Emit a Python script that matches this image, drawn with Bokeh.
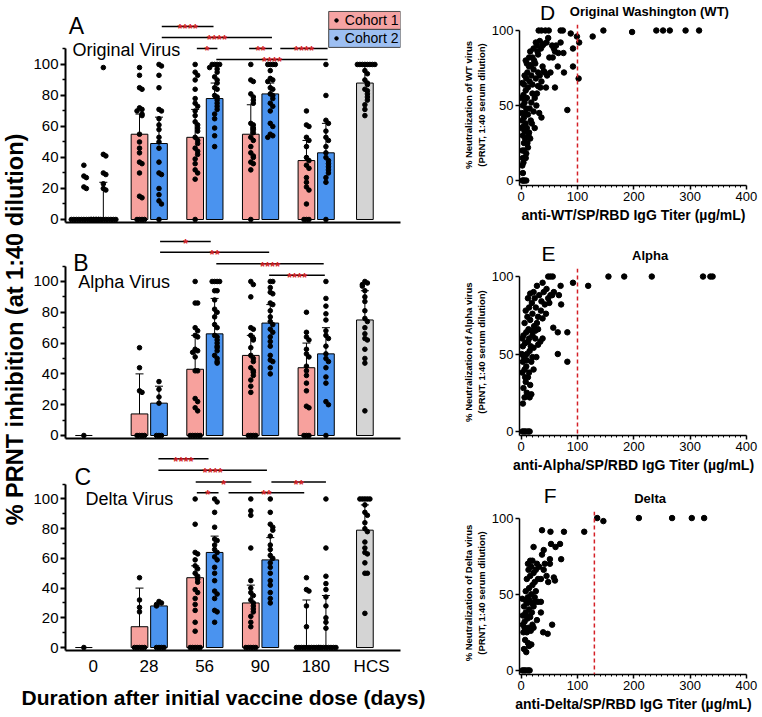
import math
from bokeh.plotting import figure
from bokeh.layouts import row, column
from bokeh.models import ColumnDataSource, Whisker, TeeHead, FixedTicker, Label, Span, Range1d
from bokeh.embed import file_html
from bokeh.resources import INLINE
from bokeh.core.properties import value

FONT = "Liberation Sans"
C1_COL = "#f7a19d"
C2_COL = "#4a93ef"
HCS_COL = "#d4d4d4"
LEG1_COL = "#f5a3a3"
LEG2_COL = "#9dbff2"
RED = "#d41f26"

# ---------------- data: left panels ----------------
day_labels = ["0", "28", "56", "90", "180", "HCS"]

# Panel A - Original virus (bars = central value, lo/hi = error bar ends)
A_c1_mean = [0, 55, 53, 55, 38]
A_c1_lo = [0, 42, 40, 37, 23]
A_c1_hi = [0, 68, 71, 74, 51]
A_c2_mean = [0, 49, 78, 81, 43]
A_c2_lo = [0, 32, 69, 74, 24]
A_c2_hi = [24, 66, 88, 88, 62]
A_hcs = [88, 78, 99]
A_c1_pts = [
    [35, 28, 27, 21, 20, 0, 0, 0, 0, 0, 0, 0, 0, 0, 0, 0, 0],
    [98, 93, 85, 84, 72, 71, 70, 68, 67, 55, 50, 46, 43, 37, 36, 30, 15, 14, 0, 0, 0, 0],
    [100, 95, 93, 90, 84, 78, 75, 73, 70, 67, 63, 61, 59, 57, 53, 51, 49, 46, 44, 42, 39, 36, 32, 30, 26, 0],
    [100, 90, 89, 81, 79, 77, 75, 62, 61, 59, 58, 56, 53, 51, 47, 43, 41, 40, 37, 36, 32, 0],
    [70, 61, 60, 53, 51, 47, 40, 38, 35, 33, 27, 24, 21, 19, 10, 0, 0, 0],
]
A_c2_pts = [
    [98, 42, 41, 30, 29, 23, 20, 19, 0, 0, 0, 0, 0, 0, 0, 0, 0, 0, 0],
    [100, 99, 93, 85, 71, 70, 65, 61, 58, 53, 50, 46, 37, 30, 29, 20, 16, 12, 10, 0],
    [100, 100, 100, 100, 98, 97, 95, 92, 90, 88, 85, 84, 80, 79, 77, 75, 73, 71, 68, 65, 59, 54, 47],
    [100, 100, 100, 100, 96, 91, 90, 89, 85, 84, 81, 80, 78, 75, 73, 70, 62, 60, 55, 54, 53],
    [100, 80, 64, 62, 57, 53, 51, 47, 43, 40, 38, 36, 34, 32, 30, 27, 24, 0],
]
A_hcs_pts = [100, 100, 100, 100, 100, 100, 100, 100, 96, 94, 90, 88, 87, 84, 83, 81, 79, 77, 74, 71, 67]
A_sig_x0 = [1.23, 1.23, 1.86, 2.80, 3.36, 2.21]
A_sig_x1 = [2.16, 3.21, 2.23, 3.21, 4.21, 4.21]
A_sig_y = [124.5, 117.4, 110.3, 110.3, 110.3, 103.2]
A_sig_lab = ["****", "****", "*", "**", "****", "****"]

# Panel B - Alpha virus
B_c1_mean = [0, 14, 43, 52, 44]
B_c1_lo = [0, 0, 18, 38, 24]
B_c1_hi = [0, 40, 65, 65, 60]
B_c2_mean = [None, 21, 66, 73, 53]
B_c2_lo = [None, 10, 46, 60, 36]
B_c2_hi = [None, 32, 89, 85, 70]
B_hcs = [75, 56, 94]
B_c1_pts = [
    [0],
    [57, 44, 29, 28, 0, 0, 0, 0],
    [100, 86, 86, 70, 68, 65, 64, 56, 55, 54, 51, 42, 42, 24, 22, 18, 16, 0, 0, 0, 0, 0],
    [100, 98, 90, 70, 69, 65, 63, 62, 57, 52, 50, 48, 44, 42, 41, 39, 36, 32, 28, 0, 0, 0, 0],
    [80, 67, 64, 62, 56, 53, 51, 45, 42, 39, 34, 29, 19, 18, 0, 0, 0],
]
B_c2_pts = [
    [],
    [35, 30, 25, 21, 0, 0, 0],
    [100, 100, 100, 100, 94, 94, 88, 82, 80, 77, 72, 70, 65, 64, 62, 60, 58, 57, 55, 52, 50, 48, 47],
    [100, 100, 96, 93, 92, 86, 85, 81, 77, 74, 72, 69, 67, 64, 61, 58, 52, 49, 48, 44, 40],
    [100, 89, 84, 79, 75, 68, 65, 63, 58, 53, 50, 48, 44, 38, 34, 22, 20, 0],
]
B_hcs_pts = [100, 99, 98, 97, 94, 90, 87, 81, 76, 74, 70, 66, 63, 62, 56, 50, 47, 16]
B_sig_x0 = [1.20, 1.20, 2.21, 3.16]
B_sig_x1 = [2.11, 3.16, 4.14, 4.16]
B_sig_y = [126, 119, 111.5, 104]
B_sig_lab = ["*", "**", "****", "****"]

# Panel C - Delta virus
C_c1_mean = [0, 14, 47, 30, 0]
C_c1_lo = [0, 0, 38, 18, 0]
C_c1_hi = [0, 40, 55, 42, 32]
C_c2_mean = [None, 28, 64, 59, 0]
C_c2_lo = [None, 26, 45, 45, 0]
C_c2_hi = [None, 29.5, 75, 74, 35]
C_hcs = [79, 62, 96]
C_c1_pts = [
    [0],
    [47, 32, 27, 24, 0, 0, 0, 0, 0],
    [100, 83, 64, 63, 59, 55, 53, 50, 48, 46, 44, 39, 37, 33, 29, 25, 17, 11, 0, 0, 0, 0, 0],
    [100, 92, 89, 67, 45, 40, 37, 35, 32, 30, 28, 26, 24, 21, 17, 14, 0, 0, 0, 0, 0],
    [47, 39, 38, 28, 14, 0, 0, 0, 0, 0, 0, 0, 0, 0, 0],
]
C_c2_pts = [
    [],
    [31, 30, 29, 28, 0, 0, 0, 0],
    [100, 98, 91, 81, 73, 72, 69, 66, 64, 61, 59, 54, 50, 45, 38, 36, 33, 25, 24, 17],
    [100, 91, 83, 81, 79, 75, 69, 66, 62, 60, 57, 54, 50, 45, 42, 37, 33, 30],
    [100, 67, 48, 43, 39, 34, 28, 20, 17, 13, 0, 0, 0, 0, 0, 0, 0, 0],
]
C_hcs_pts = [100, 100, 100, 100, 100, 96, 91, 89, 84, 80, 78, 71, 67, 64, 63, 57, 50, 50, 23]
C_sig_x0 = [1.17, 1.17, 1.84, 3.20, 1.86, 2.43]
C_sig_x1 = [2.07, 3.12, 2.84, 4.18, 2.25, 3.79]
C_sig_y = [127, 119.3, 111.5, 111.5, 104.2, 104.2]
C_sig_lab = ["****", "****", "*", "**", "*", "**"]

legend_labels = ["Cohort 1", "Cohort 2"]

# ---------------- data: right panels (titer ug/mL, % neutralization) ----------------
D_pts = [
    (31, 100), (36, 100), (43, 100), (49, 100), (70, 100), (74, 100), (146, 100), (240, 100), (252, 100),
    (264, 100), (292, 100), (316, 100), (197, 99), (88, 98), (99, 96), (127, 96), (103, 92), (102, 68),
    (92, 76), (76, 72), (82, 47), (92, 88), (60, 62),
    (2, 10), (3, 15), (4, 12), (2, 20), (5, 25), (3, 30), (6, 33), (4, 36), (8, 38), (2, 40), (5, 42),
    (7, 45), (9, 48), (3, 50), (6, 52), (10, 55), (4, 57), (8, 60), (12, 62), (5, 64), (15, 66), (9, 68),
    (18, 70), (11, 72), (22, 74), (14, 76), (25, 78), (8, 80), (20, 82), (30, 84), (16, 86), (35, 88),
    (28, 90), (40, 91), (45, 92), (55, 90), (60, 86), (50, 82), (38, 76), (42, 72), (33, 70), (26, 68),
    (30, 63), (20, 58), (24, 55), (18, 52), (15, 48), (22, 46), (12, 44), (17, 40), (10, 35), (14, 32),
    (7, 28), (11, 25), (5, 20), (9, 18), (13, 30), (19, 38), (27, 50), (32, 45), (36, 42), (28, 58),
    (34, 62), (40, 73), (46, 70), (52, 72), (58, 88), (62, 90), (66, 85), (70, 92), (75, 85), (3, 5),
    (6, 0), (2, 0), (9, 0), (4, 0), (1, 45), (1, 35), (1, 55), (2, 65), (6, 70), (10, 78), (14, 82),
    (22, 88), (26, 92), (33, 93), (38, 90), (30, 72), (36, 66), (44, 62), (20, 64), (24, 35), (16, 28),
    (12, 22), (8, 15), (18, 77), (23, 80), (29, 86), (48, 95), (56, 82), (65, 76),
]
E_pts = [
    (48, 100), (52, 100), (56, 100), (155, 100), (183, 100), (232, 100), (323, 100), (336, 100), (340, 100),
    (38, 96), (92, 96), (119, 94), (70, 94), (67, 88), (71, 82), (57, 67), (65, 64), (82, 64), (65, 50),
    (82, 45),
    (2, 0), (5, 0), (8, 0), (12, 0), (15, 0), (3, 18), (6, 22), (10, 25), (15, 22), (18, 24), (4, 28),
    (8, 32), (12, 35), (2, 38), (6, 40), (9, 42), (14, 38), (18, 45), (5, 48), (10, 50), (15, 52), (20, 48),
    (3, 55), (7, 57), (12, 58), (17, 55), (22, 54), (25, 60), (4, 62), (9, 64), (13, 66), (18, 65),
    (23, 68), (28, 70), (6, 70), (11, 74), (16, 72), (20, 76), (30, 74), (35, 78), (8, 78), (14, 80),
    (19, 83), (24, 86), (32, 88), (40, 90), (45, 92), (22, 90), (28, 94), (12, 86), (16, 89), (26, 80),
    (30, 56), (34, 58), (38, 60), (27, 48), (22, 40), (16, 30), (20, 62), (42, 82), (48, 86), (52, 88),
    (36, 84), (44, 76), (10, 46), (7, 35), (3, 45), (2, 60), (1, 50), (25, 65), (30, 66), (14, 60),
    (38, 73), (50, 83), (55, 88), (58, 90),
]
F_pts = [
    (135, 100), (146, 98), (209, 100), (268, 100), (303, 100), (325, 100), (112, 91), (76, 91), (52, 91),
    (37, 92), (69, 83), (61, 81), (53, 83), (71, 73), (51, 73), (51, 70), (60, 59), (58, 61), (55, 30),
    (47, 24), (39, 25), (35, 38), (22, 81), (40, 79), (37, 76),
    (2, 0), (5, 0), (8, 0), (12, 0), (15, 0), (5, 14), (9, 12), (12, 18), (14, 16), (7, 20), (18, 17),
    (10, 25), (4, 25), (13, 28), (20, 30), (6, 32), (11, 34), (16, 35), (3, 36), (8, 38), (14, 40),
    (19, 38), (22, 42), (5, 42), (10, 44), (15, 46), (25, 45), (30, 45), (35, 45), (2, 47), (12, 48),
    (18, 50), (8, 52), (14, 54), (20, 56), (24, 58), (10, 60), (16, 62), (22, 64), (13, 66), (18, 68),
    (26, 66), (12, 70), (16, 72), (20, 72), (28, 70), (32, 68), (40, 66), (45, 62), (30, 60), (26, 52),
    (22, 28), (28, 33), (17, 26), (6, 28), (9, 36), (3, 30), (24, 48), (8, 46), (19, 44), (35, 60),
    (42, 70), (48, 58),
]
thresholds = {"D": 100, "E": 100, "F": 130}

# ---------------- helpers ----------------
OFF1, OFF2, OFFH = -0.17, 0.18, -0.12
BAR_W = 0.30
LW = 428  # width of left panels


def swarm(vals, center, step=0.045, tol=3.0):
    xs, ys, placed = [], [], []
    for v in sorted(vals, reverse=True):
        k = sum(1 for pv in placed if abs(pv - v) < tol)
        off = ((k + 1) // 2) * step * (1 if k % 2 else -1)
        placed.append(v)
        xs.append(center + off)
        ys.append(v)
    return xs, ys


def style_left_axes(p, show_x):
    for ax in (p.xaxis[0], p.yaxis[0]):
        ax.axis_line_width = 2
        ax.axis_line_color = "black"
        ax.major_label_text_font = FONT
        ax.major_label_text_color = "black"
    y = p.yaxis[0]
    y.ticker = FixedTicker(ticks=[0, 20, 40, 60, 80, 100], minor_ticks=[10, 30, 50, 70, 90, 110])
    y.bounds = (p.y_range.start, 110)
    y.major_tick_out = 5
    y.major_tick_in = 0
    y.minor_tick_out = 3
    y.minor_tick_in = 0
    y.major_tick_line_width = 2
    y.minor_tick_line_width = 1.5
    y.major_label_text_font_size = "15px"
    y.major_label_standoff = 2
    x = p.xaxis[0]
    x.major_tick_line_color = None
    x.minor_tick_line_color = None
    x.major_tick_out = 0
    x.minor_tick_out = 0
    if show_x:
        x.ticker = FixedTicker(ticks=[0, 1, 2, 3, 4, 5], minor_ticks=[])
        x.major_label_overrides = {i: lab for i, lab in enumerate(day_labels)}
        x.major_label_text_font_size = "17px"
        x.major_label_standoff = 6
    else:
        x.ticker = FixedTicker(ticks=[], minor_ticks=[])
        x.major_label_standoff = 0


def left_panel(height, top, bottom, yr, c1m, c1lo, c1hi, c1pts, c2m, c2lo, c2hi, c2pts,
               hcs, hcs_pts, sx0, sx1, sy, slab, letter, letter_xy, title, title_xy, show_x):
    p = figure(width=LW, height=height, x_range=Range1d(-0.5, 5.52), y_range=Range1d(*yr),
               toolbar_location=None, output_backend="svg", min_border_left=33, min_border_right=LW - 370,
               min_border_top=top, min_border_bottom=bottom, outline_line_color=None)
    p.grid.visible = False
    style_left_axes(p, show_x)

    # bars
    bx, btop, bcol = [], [], []
    wx, wlo, whi = [], [], []
    for i in range(5):
        for m, lo, hi, off, col in ((c1m[i], c1lo[i], c1hi[i], OFF1, C1_COL), (c2m[i], c2lo[i], c2hi[i], OFF2, C2_COL)):
            if m is None:
                continue
            bx.append(i + off)
            btop.append(m)
            bcol.append(col)
            if hi != lo:
                wx.append(i + off)
                wlo.append(lo)
                whi.append(hi)
    bx.append(5 + OFFH)
    btop.append(hcs[0])
    bcol.append(HCS_COL)
    wx.append(5 + OFFH)
    wlo.append(hcs[1])
    whi.append(hcs[2])
    p.vbar(x=bx, top=btop, bottom=0, width=BAR_W, fill_color=bcol, line_color="black", line_width=1)
    wsrc = ColumnDataSource(dict(x=wx, lo=wlo, hi=whi))
    p.add_layout(Whisker(source=wsrc, base="x", lower="lo", upper="hi", line_color="black", line_width=1,
                         upper_head=TeeHead(size=8, line_color="black", line_width=1),
                         lower_head=TeeHead(size=8, line_color="black", line_width=1)))

    # dots
    dx, dy = [], []
    for i in range(5):
        for pts, off in ((c1pts[i], OFF1), (c2pts[i], OFF2)):
            xs, ys = swarm(pts, i + off)
            dx += xs
            dy += ys
    xs, ys = swarm(hcs_pts, 5 + OFFH)
    dx += xs
    dy += ys
    p.scatter(dx, dy, size=4.6, color="black")

    # significance brackets
    p.segment(x0=sx0, y0=sy, x1=sx1, y1=sy, line_color="black", line_width=1.5)
    p.text(x=[(a + b) / 2 for a, b in zip(sx0, sx1)], y=[v - 1.5 for v in sy], text=slab,
           text_color=RED, text_font=value(FONT), text_font_size="13px", text_font_style="bold",
           text_align="center", text_baseline="alphabetic")

    p.add_layout(Label(x=letter_xy[0], y=letter_xy[1], text=letter, text_font=FONT, text_font_size="23px",
                       text_baseline="middle", text_align="left", text_color="black"))
    p.add_layout(Label(x=title_xy[0], y=title_xy[1], text=title, text_font=FONT, text_font_size="18px",
                       text_baseline="middle", text_align="left", text_color="black"))
    return p


pA = left_panel(227, 10, 5, (-1.94, 134.8), A_c1_mean, A_c1_lo, A_c1_hi, A_c1_pts,
                A_c2_mean, A_c2_lo, A_c2_hi, A_c2_pts, A_hcs, A_hcs_pts,
                A_sig_x0, A_sig_x1, A_sig_y, A_sig_lab, "A", (-0.44, 125), "Original Virus", (-0.375, 109.5), False)
# legend boxes
leg_y = [128.4, 116.8]
pA.rect(x=[4.875, 4.875], y=leg_y, width=1.29, height=11.6, fill_color=[LEG1_COL, LEG2_COL],
        line_color="#444444", line_width=1)
pA.scatter([4.37, 4.37], leg_y, size=3.5, color="black")
pA.text(x=[4.52, 4.52], y=leg_y, text=legend_labels, text_font=value(FONT), text_font_size="14px",
        text_baseline="middle", text_align="left", text_color="black")

pB = left_panel(216, 5, 5, (-1.95, 131.8), B_c1_mean, B_c1_lo, B_c1_hi, B_c1_pts,
                B_c2_mean, B_c2_lo, B_c2_hi, B_c2_pts, B_hcs, B_hcs_pts,
                B_sig_x0, B_sig_x1, B_sig_y, B_sig_lab, "B", (-0.36, 112), "Alpha Virus", (-0.27, 99.5), False)
pC = left_panel(235, 6, 26, (-2.0, 133.3), C_c1_mean, C_c1_lo, C_c1_hi, C_c1_pts,
                C_c2_mean, C_c2_lo, C_c2_hi, C_c2_pts, C_hcs, C_hcs_pts,
                C_sig_x0, C_sig_x1, C_sig_y, C_sig_lab, "C", (-0.34, 115), "Delta Virus", (-0.14, 100), True)

# shared y label
ylab = figure(width=30, height=678, x_range=(0, 30), y_range=(0, 678), toolbar_location=None,
              output_backend="svg", min_border=0, outline_line_color=None)
ylab.axis.visible = False
ylab.grid.visible = False
ylab.text(x=[14.5], y=[349], text=["% PRNT inhibition (at 1:40 dilution)"], angle=math.pi / 2,
          text_font=value(FONT), text_font_size="23.5px", text_font_style="bold",
          text_align="center", text_baseline="middle", text_color="black")

# shared x label
xlab = figure(width=30 + LW, height=38, x_range=(0, 30 + LW), y_range=(0, 38), toolbar_location=None,
              output_backend="svg", min_border=0, outline_line_color=None)
xlab.axis.visible = False
xlab.grid.visible = False
xlab.text(x=[223], y=[19], text=["Duration after initial vaccine dose (days)"],
          text_font=value(FONT), text_font_size="21px", text_font_style="bold",
          text_align="center", text_baseline="middle", text_color="black")

RX = 30 + LW  # page x where right column starts
RW = 302


def header(height, letter, title, lx, ly, tx, ty):
    h = figure(width=RW, height=height, x_range=(0, RW), y_range=(0, height), toolbar_location=None,
               output_backend="svg", min_border=0, outline_line_color=None)
    h.axis.visible = False
    h.grid.visible = False
    h.text(x=[lx - RX], y=[ly], text=[letter], text_font=value(FONT), text_font_size="21px",
           text_align="left", text_baseline="middle", text_color="black")
    h.text(x=[tx - RX], y=[ty], text=[title], text_font=value(FONT), text_font_size="13px",
           text_font_style="bold", text_align="center", text_baseline="middle", text_color="black")
    return h


def right_panel(height, yr, pts, thr, xlabel, ylabel):
    p = figure(width=RW, height=height, x_range=Range1d(-3, 402), y_range=Range1d(*yr),
               toolbar_location=None, output_backend="svg", min_border_left=61, min_border_right=13,
               min_border_top=0, min_border_bottom=43, outline_line_color=None)
    p.grid.visible = False
    x = p.xaxis[0]
    y = p.yaxis[0]
    x.ticker = FixedTicker(ticks=[0, 100, 200, 300, 400], minor_ticks=list(range(10, 400, 10)))
    y.ticker = FixedTicker(ticks=[0, 50, 100], minor_ticks=[])
    x.bounds = (-3, 400)
    y.bounds = (yr[0], 100)
    for ax in (x, y):
        ax.axis_line_width = 1.5
        ax.axis_line_color = "black"
        ax.major_tick_line_width = 1.5
        ax.major_tick_out = 4
        ax.major_tick_in = 0
        ax.minor_tick_out = 2
        ax.minor_tick_in = 0
        ax.major_label_text_font = FONT
        ax.major_label_text_font_size = "13px"
        ax.major_label_text_color = "black"
        ax.major_label_standoff = 2
        ax.axis_label_text_font = FONT
        ax.axis_label_text_font_style = "bold"
        ax.axis_label_text_color = "black"
    x.axis_label = xlabel
    x.axis_label_text_font_size = "14px"
    x.axis_label_standoff = 3
    y.axis_label = ylabel
    y.axis_label_text_font_size = "9.5px"
    y.axis_label_standoff = 2
    p.add_layout(Span(location=thr, dimension="height", line_color=RED, line_dash="4 3", line_width=1.5))
    p.scatter([a for a, b in pts], [b for a, b in pts], size=5.5, color="black")
    return p


hD = header(24, "D", "Original Washington (WT)", 485, 12, 630, 13)
pD = right_panel(204, (-3.3, 104.0), D_pts, thresholds["D"],
                 "anti-WT/SP/RBD IgG Titer (\u00b5g/mL)",
                 "% Neutralization of WT virus\n(PRNT, 1:40 serum dilution)")
hE = header(40, "E", "Alpha", 487, 15, 631, 13)
pE = right_panel(210, (-2.6, 105.2), E_pts, thresholds["E"],
                 "anti-Alpha/SP/RBD IgG Titer (\u00b5g/mL)",
                 "% Neutralization of Alpha virus\n(PRNT, 1:40 serum dilution)")
hF = header(33, "F", "Delta", 490, 16, 631, 13)
pF = right_panel(206, (-2.7, 104.3), F_pts, thresholds["F"],
                 "anti-Delta/SP/RBD IgG Titer (\u00b5g/mL)",
                 "% Neutralization of Delta virus\n(PRNT, 1:40 serum dilution)")

left = column(row(ylab, column(pA, pB, pC)), xlab)
layout = row(left, column(hD, pD, hE, pE, hF, pF))

open("out.html", "w").write(file_html(layout, INLINE))
